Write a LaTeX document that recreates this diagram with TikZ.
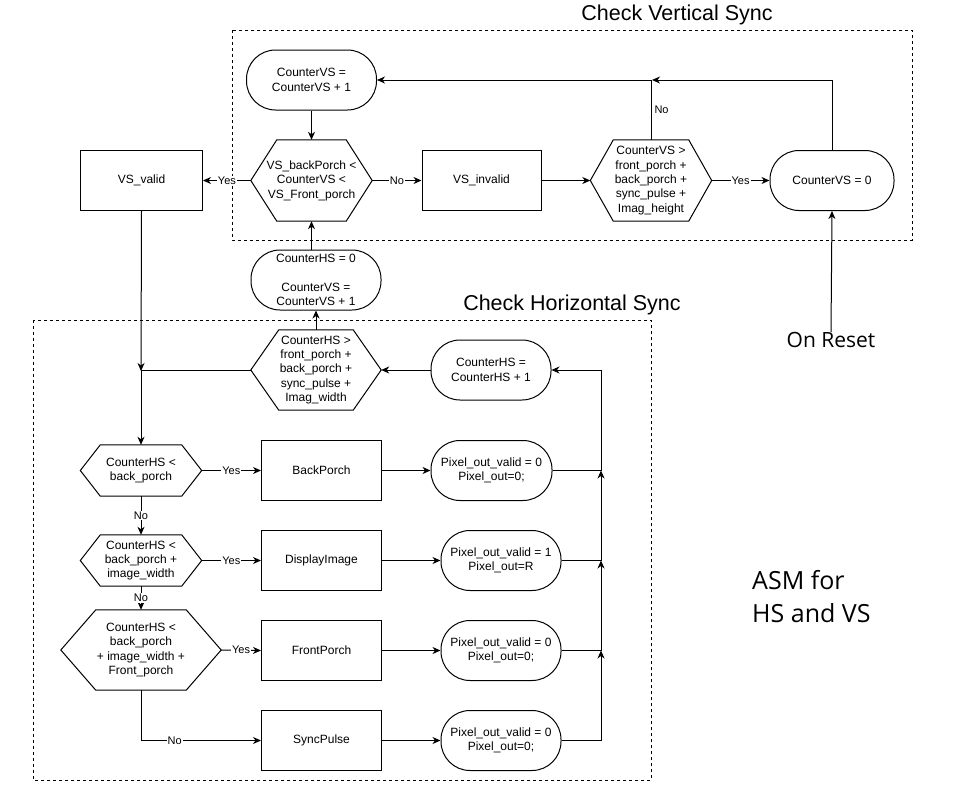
\documentclass[tikz,border=0pt]{standalone}
\usepackage{fontspec}
\setmainfont{Liberation Sans}
\newfontfamily\segoe{Open Sans}
\usetikzlibrary{arrows.meta}
\newcommand\hexshape[2]{\draw[line width=1pt] (#1.west) -- ([xshift=#2]#1.north west) -- ([xshift=-#2]#1.north east) -- (#1.east) -- ([xshift=-#2]#1.south east) -- ([xshift=#2]#1.south west) -- cycle;}
\tikzset{
  txt/.style={align=center, inner sep=0pt, font=\fontsize{12}{14.4}\selectfont},
  proc/.style={txt, draw=black, line width=1pt, rectangle, minimum height=60pt},
  term/.style={txt, draw=black, line width=1pt, rectangle, rounded corners=29pt, minimum height=60pt},
  dec/.style={txt, rectangle},
  lbl/.style={fill=white, inner sep=1pt, font=\fontsize{11}{13}\selectfont},
  arr/.style={line width=1pt, -{Stealth[length=8pt,width=7pt,inset=2.5pt]}},
  ln/.style={line width=1pt},
  grp/.style={line width=0.9pt, dash pattern=on 3pt off 3pt},
  title/.style={inner sep=0pt, font=\fontsize{21.5}{24}\selectfont}
}
\begin{document}
\begin{tikzpicture}[x=1pt,y=-1pt]
\useasboundingbox (0,0) rectangle (956,811);
% group frames
\draw[grp] (232,30) rectangle (912,240);
\draw[grp] (33,320) rectangle (651,780);
\node[title] (tv) at (677,15) {Check Vertical Sync};
\node[title] (th) at (572,305) {Check Horizontal Sync};

% vertical sync
\node[term, minimum width=130pt] (cvs1) at (311.5,80) {CounterVS =\\CounterVS + 1};
\node[dec, minimum width=121pt, minimum height=81pt] (hv1) at (311.5,180.5) {VS\_backPorch <\\CounterVS <\\VS\_Front\_porch};
\hexshape{hv1}{26pt}
\node[proc, minimum width=119pt] (vsinv) at (481.5,180.5) {VS\_invalid};
\node[dec, minimum width=121pt, minimum height=81pt] (hv2) at (651,180.5) {CounterVS >\\front\_porch +\\back\_porch +\\sync\_pulse +\\Imag\_height};
\hexshape{hv2}{23pt}
\node[term, minimum width=124pt] (cvs0) at (832,180.5) {CounterVS = 0};
\node[proc, minimum width=122pt] (vsvalid) at (141.5,180.5) {VS\_valid};
\node[inner sep=0pt, font=\segoe\fontsize{21}{24}\selectfont] (reset) at (831,340) {On Reset};
\node[inner sep=0pt, align=left, anchor=west, font=\segoe\fontsize{25}{33}\selectfont] (asm) at (752,597) {ASM for\\HS and VS};

% horizontal sync
\node[term, minimum width=130pt] (hs0) at (316,280) {CounterHS = 0\\[14.4pt]CounterVS =\\CounterVS + 1};
\node[dec, minimum width=130pt, minimum height=80pt] (hh) at (316,370) {CounterHS >\\front\_porch +\\back\_porch +\\sync\_pulse +\\Imag\_width};
\hexshape{hh}{28pt}
\node[term, minimum width=120pt] (chs1) at (491,370) {CounterHS =\\CounterHS + 1};

\node[dec, minimum width=121pt, minimum height=51pt] (ha) at (141,470.5) {CounterHS <\\back\_porch};
\hexshape{ha}{20pt}
\node[dec, minimum width=121pt, minimum height=51pt] (hb) at (141,560.5) {CounterHS <\\back\_porch +\\image\_width};
\hexshape{hb}{20pt}
\node[dec, minimum width=160pt, minimum height=80pt] (hc) at (141,650) {CounterHS <\\back\_porch\\+ image\_width +\\Front\_porch};
\hexshape{hc}{35pt}

\node[proc, minimum width=120pt] (bp) at (321.5,470.5) {BackPorch};
\node[proc, minimum width=120pt] (di) at (321.5,560.5) {DisplayImage};
\node[proc, minimum width=120pt] (fp) at (321.5,650.5) {FrontPorch};
\node[proc, minimum width=120pt] (sp) at (321.5,740.5) {SyncPulse};

\node[term, minimum width=121pt] (px1) at (491.5,470.5) {Pixel\_out\_valid = 0\\Pixel\_out=0;};
\node[term, minimum width=120pt] (px2) at (501,560.5) {Pixel\_out\_valid = 1\\Pixel\_out=R};
\node[term, minimum width=120pt] (px3) at (501,650.5) {Pixel\_out\_valid = 0\\Pixel\_out=0;};
\node[term, minimum width=120pt] (px4) at (501,740.5) {Pixel\_out\_valid = 0\\Pixel\_out=0;};

\coordinate (jv) at (652,80);
\coordinate (jl) at (141,370);
\coordinate (b1) at (601,470.5);
\coordinate (b2) at (601,560.5);
\coordinate (b3) at (601,650.5);

% connectors: vertical sync
\draw[arr] (cvs1) -- (hv1);
\draw[arr] (hv1.east) -- node[lbl] {No} (vsinv.west);
\draw[arr] (vsinv.east) -- (hv2.west);
\draw[arr] (hv2.east) -- node[lbl] {Yes} (cvs0.west);
\draw[arr] (hv1.west) -- node[lbl] {Yes} (vsvalid.east);
\draw[arr] (cvs0.north) |- (jv);
\draw[arr] (hv2.north) |- node[pos=0.25, right, inner sep=3pt, font=\fontsize{11}{13}\selectfont] {No} (cvs1.east);
\draw[arr] (reset.north) -- (cvs0.south);
\draw[arr] (hs0.north -| hv1.south) -- (hv1.south);

% connectors: horizontal sync
\draw[arr] (hh.north) -- (hs0.south);
\draw[arr] (chs1.west) -- (hh.east);
\draw[arr] (vsvalid.south) -- ([yshift=-1pt]jl);
\draw[arr] (hh.west) -| (ha.north);
\draw[arr] (ha.south) -- node[lbl] {No} (hb.north);
\draw[arr] (hb.south) -- node[lbl] {No} (hc.north);
\draw[arr] (hc.south) |- node[lbl, pos=0.64] {No} (sp.west);
\draw[arr] (ha.east) -- node[lbl] {Yes} (bp.west);
\draw[arr] (hb.east) -- node[lbl] {Yes} (di.west);
\draw[arr] (hc.east) -- node[lbl] {Yes} (fp.west);
\draw[arr] (bp.east) -- (px1.west);
\draw[arr] (di.east) -- (px2.west);
\draw[arr] (fp.east) -- (px3.west);
\draw[arr] (sp.east) -- (px4.west);
\draw[arr] (px1.east) -- (b1) |- (chs1.east);
\draw[arr] (px2.east) -| (b1);
\draw[arr] (px3.east) -| (b2);
\draw[arr] (px4.east) -| (b3);
\end{tikzpicture}
\end{document}
